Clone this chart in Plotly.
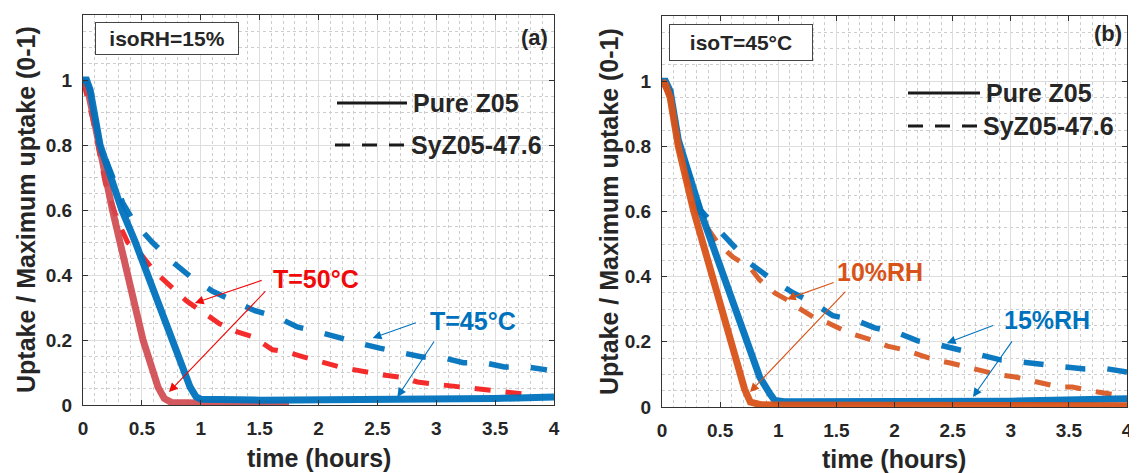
import plotly.graph_objects as go

# ---------------- data ----------------
# Panel (a): isoRH = 15 %
a_pure50_t = [0, 0.03, 0.07, 0.145, 0.25, 0.37, 0.51, 0.637, 0.69, 0.75, 1.0, 1.5, 1.75]
a_pure50_y = [1.0, 0.99, 0.92, 0.78, 0.60, 0.415, 0.20, 0.055, 0.02, 0.008, 0.005, 0.003, 0.003]

a_pure45_t = [0, 0.03, 0.06, 0.145, 0.33, 0.44, 0.654, 0.91, 0.96, 1.0, 1.5, 2.0, 2.5, 3.0, 3.5, 4.0]
a_pure45_y = [1.0, 1.0, 0.97, 0.80, 0.60, 0.505, 0.30, 0.055, 0.025, 0.018, 0.015, 0.015, 0.015, 0.017, 0.02, 0.025]

a_sy50_t = [0, 0.085, 0.19, 0.29, 0.38, 0.5, 0.61, 0.76, 0.88, 1.04, 1.16, 1.31, 1.44, 1.61, 1.73, 1.87,
            2.03, 2.18, 2.31, 2.45, 2.55, 2.69, 2.84, 2.97, 3.1, 3.23, 3.4, 3.54, 3.65, 3.82]
a_sy50_y = [1.0, 0.877, 0.683, 0.57, 0.50, 0.46, 0.41, 0.36, 0.32, 0.28, 0.25, 0.225, 0.21, 0.17, 0.163, 0.148,
            0.132, 0.117, 0.108, 0.098, 0.092, 0.086, 0.071, 0.065, 0.06, 0.055, 0.046, 0.04, 0.037, 0.031]

a_sy45_t = [0, 0.06, 0.145, 0.34, 0.44, 0.59, 0.76, 0.93, 1.1, 1.29, 1.46, 1.65, 1.82, 2.0, 2.17, 2.35,
            2.52, 2.71, 2.88, 3.06, 3.23, 3.41, 3.58, 3.77, 3.94]
a_sy45_y = [1.0, 0.97, 0.80, 0.62, 0.56, 0.50, 0.44, 0.39, 0.35, 0.32, 0.29, 0.27, 0.24, 0.225, 0.206, 0.19,
            0.175, 0.163, 0.148, 0.145, 0.13, 0.13, 0.117, 0.117, 0.108]

# Panel (b): isoT = 45 C
b_pure10_t = [0, 0.03, 0.07, 0.14, 0.27, 0.45, 0.6, 0.71, 0.76, 0.85, 1.0, 2.0, 3.0, 4.0]
b_pure10_y = [1.0, 0.99, 0.95, 0.80, 0.605, 0.38, 0.195, 0.055, 0.015, 0.007, 0.006, 0.005, 0.004, 0.004]

b_pure15_t = [0, 0.03, 0.07, 0.14, 0.327, 0.6, 0.84, 0.93, 0.97, 1.05, 2.0, 3.0, 4.0]
b_pure15_y = [1.0, 1.0, 0.97, 0.82, 0.605, 0.33, 0.092, 0.04, 0.02, 0.016, 0.015, 0.018, 0.025]

b_sy10_t = [0, 0.07, 0.14, 0.27, 0.35, 0.48, 0.61, 0.76, 0.84, 0.97, 1.08, 1.16, 1.3, 1.43, 1.59, 1.7, 1.85,
            1.94, 2.09, 2.24, 2.35, 2.48, 2.62, 2.75, 2.88, 3.04, 3.15, 3.28, 3.42, 3.53, 3.64, 3.75, 3.91]
b_sy10_y = [1.0, 0.95, 0.80, 0.62, 0.57, 0.503, 0.46, 0.427, 0.39, 0.35, 0.328, 0.307, 0.276, 0.258, 0.23, 0.218, 0.2,
            0.187, 0.175, 0.157, 0.144, 0.135, 0.123, 0.114, 0.10, 0.092, 0.083, 0.074, 0.061, 0.061, 0.052, 0.046, 0.037]

b_sy15_t = [0, 0.07, 0.14, 0.33, 0.43, 0.6, 0.76, 0.95, 1.13, 1.3, 1.47, 1.66, 1.83, 2.03, 2.2, 2.39, 2.56,
            2.75, 2.92, 3.1, 3.28, 3.47, 3.64, 3.83, 4.0]
b_sy15_y = [1.0, 0.97, 0.82, 0.605, 0.565, 0.50, 0.44, 0.39, 0.35, 0.32, 0.28, 0.267, 0.243, 0.227, 0.203, 0.19, 0.175,
            0.16, 0.144, 0.138, 0.129, 0.123, 0.117, 0.117, 0.107]

x_ticks = [0, 0.5, 1, 1.5, 2, 2.5, 3, 3.5, 4]
x_ticklabels = ["0", "0.5", "1", "1.5", "2", "2.5", "3", "3.5", "4"]
ya_ticks = [0, 0.2, 0.4, 0.6, 0.8, 1]
ya_ticklabels = ["0", "0.2", "0.4", "0.6", "0.8", "1"]
yb_ticks = [0, 0.2, 0.4, 0.6, 0.8, 1, 1.2]
yb_ticklabels = ["0", "0.2", "0.4", "0.6", "0.8", "1", "1.2"]

legend_labels = ["Pure Z05", "SyZ05-47.6"]

# ---------------- styles ----------------
OFF = 8                      # default body margin of the html page
W, H = 1137 - OFF, 473 - OFF
BLUE = "#0072BD"
ORANGE = "#D95319"
RED_SOLID = "rgb(208,72,78)"
RED_DASH = "rgb(245,22,22)"
RED_TEXT = "rgb(240,10,10)"
FONT = "Liberation Sans"
AXC = "#333333"

fig = go.Figure()

def add(t, y, color, width, dash, xa, ya, opacity=1.0):
    fig.add_trace(go.Scatter(x=t, y=y, mode="lines", xaxis=xa, yaxis=ya, opacity=opacity,
                             line=dict(color=color, width=width, dash=dash),
                             showlegend=False, hoverinfo="skip"))

# panel (a)
add(a_sy50_t, a_sy50_y, RED_DASH, 5, "16px,15px", "x", "y", 0.9)
add(a_sy45_t, a_sy45_y, BLUE, 5.5, "20px,22px", "x", "y", 0.95)
add(a_pure50_t, a_pure50_y, RED_SOLID, 7, "solid", "x", "y", 0.9)
add(a_pure45_t, a_pure45_y, BLUE, 7, "solid", "x", "y", 0.95)
# panel (b)
add(b_sy10_t, b_sy10_y, ORANGE, 5, "16px,15px", "x2", "y2", 0.9)
add(b_sy15_t, b_sy15_y, BLUE, 5.5, "20px,22px", "x2", "y2", 0.95)
add(b_pure15_t, b_pure15_y, BLUE, 7, "solid", "x2", "y2", 0.95)
add(b_pure10_t, b_pure10_y, ORANGE, 7, "solid", "x2", "y2", 0.95)

def px(xp):
    return (xp - OFF) / W

def py(yp):
    return 1 - (yp - OFF) / H

grid_minor = dict(showgrid=True, gridcolor="rgb(205,205,205)", griddash="dot", gridwidth=1, ticks="")

def xaxis(dom, anchor):
    return dict(domain=dom, anchor=anchor, range=[0, 4], tickvals=x_ticks, ticktext=x_ticklabels,
                showline=True, linecolor=AXC, linewidth=1, mirror="allticks", ticks="inside",
                ticklen=5, tickcolor=AXC, showgrid=True, gridcolor="rgb(222,222,222)", gridwidth=1,
                minor=dict(dtick=0.1, **grid_minor), zeroline=False, automargin=False,
                tickfont=dict(family=FONT, size=19, color="#262626", weight="bold"),
                ticklabelstandoff=6, fixedrange=True)

def yaxis(dom, anchor, tv, tt):
    return dict(domain=dom, anchor=anchor, range=[0, 1.2], tickvals=tv, ticktext=tt,
                showline=True, linecolor=AXC, linewidth=1, mirror="allticks", ticks="inside",
                ticklen=5, tickcolor=AXC, showgrid=True, gridcolor="rgb(222,222,222)", gridwidth=1,
                minor=dict(dtick=0.05, **grid_minor), zeroline=False, automargin=False,
                tickfont=dict(family=FONT, size=19, color="#262626", weight="bold"),
                ticklabelstandoff=6, fixedrange=True)

fig.update_layout(
    width=W, height=H, margin=dict(l=0, r=0, t=0, b=0, autoexpand=False),
    paper_bgcolor="white", plot_bgcolor="white", showlegend=False,
    font=dict(family=FONT, color="#262626", weight="bold"),
    xaxis=xaxis([px(83), px(554)], "y"),
    yaxis=yaxis([py(405), py(15)], "x", ya_ticks, ya_ticklabels),
    xaxis2=xaxis([px(662), px(1127)], "y2"),
    yaxis2=yaxis([py(407), py(16)], "x2", yb_ticks, yb_ticklabels),
)

ann = []
def txt(text, x, y, size, color="#262626", xref="paper", yref="paper", xanchor="center", **kw):
    ann.append(dict(text=text, x=x, y=y, xref=xref, yref=yref, showarrow=False, xanchor=xanchor,
                    yanchor="middle", font=dict(family=FONT, size=size, color=color, weight="bold"), **kw))

def arrow(x, y, ax, ay, color, xr, yr):
    ann.append(dict(text="", x=x, y=y, ax=ax, ay=ay, xref=xr, yref=yr, axref=xr, ayref=yr,
                    showarrow=True, arrowhead=2, arrowsize=1.6, arrowwidth=1.1, arrowcolor=color))

# axis titles
txt("time (hours)", px(319), py(458), 25)
txt("time (hours)", px(894), py(459), 25)
txt("Uptake / Maximum uptake (0-1)", px(26), py(210), 25, textangle=-90)
txt("Uptake / Maximum uptake (0-1)", px(609), py(212), 25, textangle=-90)

# panel labels and boxes
txt("(a)", px(534), py(37), 22)
txt("(b)", px(1108), py(34), 22)
txt("isoRH=15%", px(167), py(39), 21, bordercolor="#444444", borderwidth=1, borderpad=2,
    bgcolor="white", width=138, height=27)
txt("isoT=45°C", px(741), py(42), 21, bordercolor="#444444", borderwidth=1, borderpad=2,
    bgcolor="white", width=138, height=31)

# legend (manual, MATLAB style)
shapes = []
def leg(x0, x1, yp, dash, label):
    shapes.append(dict(type="line", xref="paper", yref="paper", x0=px(x0), x1=px(x1), y0=py(yp), y1=py(yp),
                       line=dict(color="#1a1a1a", width=3, dash=dash)))
    txt(label, px(x1 + 4), py(yp), 25, xanchor="left")

leg(337, 407, 103, "solid", legend_labels[0])
leg(335, 405, 145, "15px,12px", legend_labels[1])
leg(908, 980, 93, "solid", legend_labels[0])
leg(908, 977, 126, "15px,12px", legend_labels[1])

# curve labels with arrows - panel (a)
txt("T=50°C", 1.98, 0.388, 25, RED_TEXT, "x", "y")
arrow(0.95, 0.314, 1.53, 0.385, RED_TEXT, "x", "y")
arrow(0.73, 0.04, 1.56, 0.354, RED_TEXT, "x", "y")
txt("T=45°C", 3.31, 0.258, 25, BLUE, "x", "y")
arrow(2.46, 0.206, 2.84, 0.255, BLUE, "x", "y")
arrow(2.67, 0.025, 2.99, 0.20, BLUE, "x", "y")

# panel (b)
txt("10%RH", 1.875, 0.414, 25, ORANGE, "x2", "y2")
arrow(1.075, 0.331, 1.49, 0.384, ORANGE, "x2", "y2")
arrow(0.757, 0.046, 1.59, 0.359, ORANGE, "x2", "y2")
txt("15%RH", 3.31, 0.267, 25, BLUE, "x2", "y2")
arrow(2.45, 0.196, 2.86, 0.252, BLUE, "x2", "y2")
arrow(2.675, 0.031, 3.02, 0.206, BLUE, "x2", "y2")

fig.update_layout(annotations=ann, shapes=shapes)

fig.write_html("out.html")
